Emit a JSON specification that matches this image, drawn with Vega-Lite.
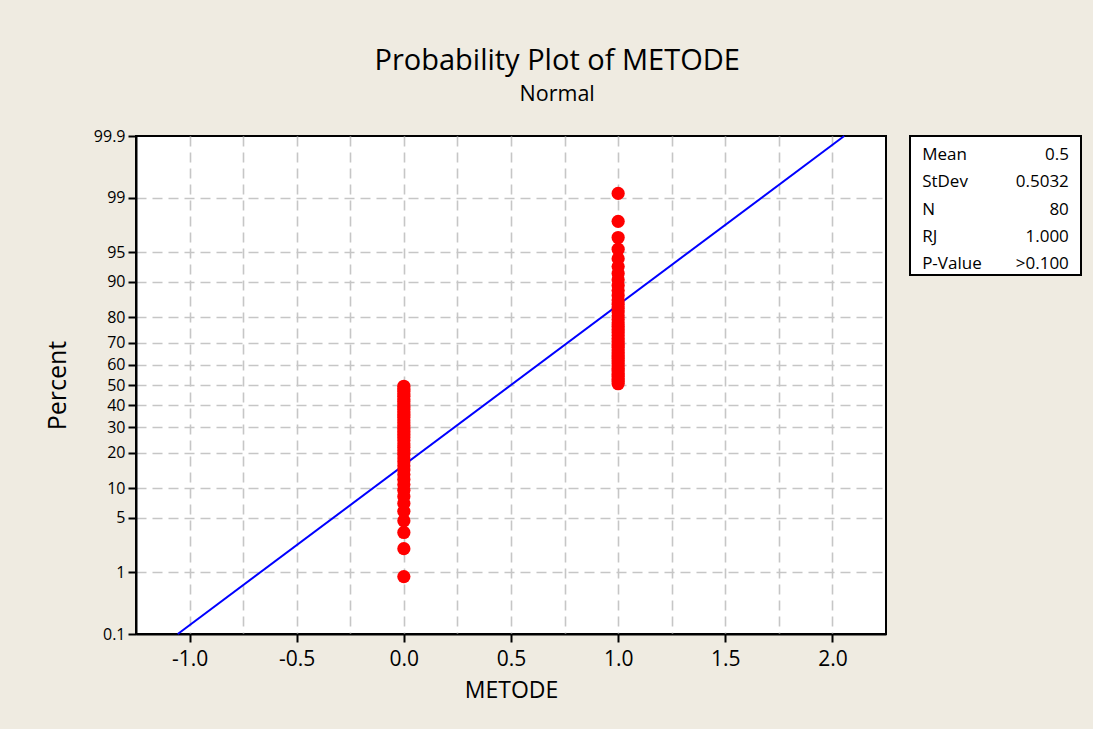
{
  "$schema": "https://vega.github.io/schema/vega-lite/v6.json",
  "background": "#efebe1",
  "padding": {"left": 44, "top": 46, "right": 12, "bottom": 30},
  "title": {
    "text": "Probability Plot of METODE",
    "subtitle": "Normal",
    "font": "Open Sans",
    "subtitleFont": "Open Sans",
    "fontSize": 29,
    "subtitleFontSize": 21.5,
    "fontWeight": "normal",
    "color": "black",
    "subtitleColor": "black",
    "anchor": "middle",
    "dx": -6,
    "offset": 22,
    "subtitlePadding": 8
  },
  "spacing": 22,
  "config": {
    "font": "Open Sans",
    "view": {"fill": "white", "stroke": "black", "strokeWidth": 2}
  },
  "datasets": {
    "points": [
      {"METODE": 0, "percent": 0.87}, {"METODE": 0, "percent": 2.11}, {"METODE": 0, "percent": 3.36}, {"METODE": 0, "percent": 4.60},
      {"METODE": 0, "percent": 5.85}, {"METODE": 0, "percent": 7.09}, {"METODE": 0, "percent": 8.33}, {"METODE": 0, "percent": 9.58},
      {"METODE": 0, "percent": 10.82}, {"METODE": 0, "percent": 12.06}, {"METODE": 0, "percent": 13.31}, {"METODE": 0, "percent": 14.55},
      {"METODE": 0, "percent": 15.80}, {"METODE": 0, "percent": 17.04}, {"METODE": 0, "percent": 18.28}, {"METODE": 0, "percent": 19.53},
      {"METODE": 0, "percent": 20.77}, {"METODE": 0, "percent": 22.01}, {"METODE": 0, "percent": 23.26}, {"METODE": 0, "percent": 24.50},
      {"METODE": 0, "percent": 25.75}, {"METODE": 0, "percent": 26.99}, {"METODE": 0, "percent": 28.23}, {"METODE": 0, "percent": 29.48},
      {"METODE": 0, "percent": 30.72}, {"METODE": 0, "percent": 31.97}, {"METODE": 0, "percent": 33.21}, {"METODE": 0, "percent": 34.45},
      {"METODE": 0, "percent": 35.70}, {"METODE": 0, "percent": 36.94}, {"METODE": 0, "percent": 38.18}, {"METODE": 0, "percent": 39.43},
      {"METODE": 0, "percent": 40.67}, {"METODE": 0, "percent": 41.92}, {"METODE": 0, "percent": 43.16}, {"METODE": 0, "percent": 44.40},
      {"METODE": 0, "percent": 45.65}, {"METODE": 0, "percent": 46.89}, {"METODE": 0, "percent": 48.13}, {"METODE": 0, "percent": 49.38},
      {"METODE": 1, "percent": 50.62}, {"METODE": 1, "percent": 51.87}, {"METODE": 1, "percent": 53.11}, {"METODE": 1, "percent": 54.35},
      {"METODE": 1, "percent": 55.60}, {"METODE": 1, "percent": 56.84}, {"METODE": 1, "percent": 58.08}, {"METODE": 1, "percent": 59.33},
      {"METODE": 1, "percent": 60.57}, {"METODE": 1, "percent": 61.82}, {"METODE": 1, "percent": 63.06}, {"METODE": 1, "percent": 64.30},
      {"METODE": 1, "percent": 65.55}, {"METODE": 1, "percent": 66.79}, {"METODE": 1, "percent": 68.03}, {"METODE": 1, "percent": 69.28},
      {"METODE": 1, "percent": 70.52}, {"METODE": 1, "percent": 71.77}, {"METODE": 1, "percent": 73.01}, {"METODE": 1, "percent": 74.25},
      {"METODE": 1, "percent": 75.50}, {"METODE": 1, "percent": 76.74}, {"METODE": 1, "percent": 77.99}, {"METODE": 1, "percent": 79.23},
      {"METODE": 1, "percent": 80.47}, {"METODE": 1, "percent": 81.72}, {"METODE": 1, "percent": 82.96}, {"METODE": 1, "percent": 84.20},
      {"METODE": 1, "percent": 85.45}, {"METODE": 1, "percent": 86.69}, {"METODE": 1, "percent": 87.94}, {"METODE": 1, "percent": 89.18},
      {"METODE": 1, "percent": 90.42}, {"METODE": 1, "percent": 91.67}, {"METODE": 1, "percent": 92.91}, {"METODE": 1, "percent": 94.15},
      {"METODE": 1, "percent": 95.40}, {"METODE": 1, "percent": 96.64}, {"METODE": 1, "percent": 97.89}, {"METODE": 1, "percent": 99.13}
    ],
    "fit": [
      {"METODE": -1.055, "percent": 0.1},
      {"METODE": 2.055, "percent": 99.9}
    ],
    "stats": [
      {"stat": "Mean", "value": "0.5"},
      {"stat": "StDev", "value": "0.5032"},
      {"stat": "N", "value": "80"},
      {"stat": "RJ", "value": "1.000"},
      {"stat": "P-Value", "value": ">0.100"}
    ]
  },
  "hconcat": [
    {
      "width": 750,
      "height": 498,
      "encoding": {
        "x": {
          "field": "METODE",
          "type": "quantitative",
          "scale": {"domain": [-1.25, 2.25], "nice": false, "zero": false},
          "axis": {
            "values": [-1, -0.75, -0.5, -0.25, 0, 0.25, 0.5, 0.75, 1, 1.25, 1.5, 1.75, 2],
            "tickCount": 30,
            "labelExpr": "abs(datum.value * 2 - round(datum.value * 2)) < 0.001 ? (datum.value < 0 ? '-' : '') + format(abs(datum.value), '.1f') : ''",
            "labelOverlap": false,
            "labelFontSize": 21,
            "labelColor": "black",
            "labelPadding": 6,
            "tickSize": 8,
            "tickWidth": 2,
            "tickColor": "black",
            "tickOpacity": {"condition": {"test": "abs(datum.value * 2 - round(datum.value * 2)) < 0.001", "value": 1}, "value": 0},
            "grid": true,
            "gridColor": "#c6c6c6",
            "gridDash": [10, 6],
            "gridWidth": 1.6,
            "domainColor": "black",
            "domainWidth": 2,
            "title": "METODE",
            "titleFontSize": 23,
            "titleFontWeight": "normal",
            "titleColor": "black",
            "titlePadding": 10
          }
        },
        "y": {
          "field": "z",
          "type": "quantitative",
          "scale": {"domain": [-3.090232, 3.090232], "nice": false, "zero": false},
          "axis": {
            "values": [-3.090232, -2.326348, -1.644854, -1.281552, -0.841621, -0.524401, -0.253347, 0, 0.253347, 0.524401, 0.841621, 1.281552, 1.644854, 2.326348, 3.090232],
            "tickCount": 30,
            "labelExpr": "'' + round(cumulativeNormal(datum.value) * 1000) / 10",
            "labelOverlap": false,
            "labelFontSize": 16,
            "labelColor": "black",
            "labelPadding": 3,
            "tickSize": 8,
            "tickWidth": 2,
            "tickColor": "black",
            "grid": true,
            "gridColor": "#c6c6c6",
            "gridDash": [10, 6],
            "gridWidth": 1.6,
            "gridOpacity": {"condition": {"test": "abs(datum.value) > 3", "value": 0}, "value": 1},
            "domainColor": "black",
            "domainWidth": 2,
            "title": "Percent",
            "titleFontSize": 25,
            "titleFontWeight": "normal",
            "titleColor": "black",
            "titlePadding": 23
          }
        }
      },
      "layer": [
        {
          "data": {"name": "fit"},
          "transform": [{"calculate": "quantileNormal(datum.percent / 100)", "as": "z"}],
          "mark": {"type": "line", "color": "#0000ff", "strokeWidth": 2}
        },
        {
          "data": {"name": "points"},
          "transform": [{"calculate": "quantileNormal(datum.percent / 100)", "as": "z"}],
          "mark": {"type": "circle", "size": 175, "color": "#ff0000", "opacity": 1}
        }
      ]
    },
    {
      "width": 171,
      "height": 139,
      "data": {"name": "stats"},
      "encoding": {
        "y": {"field": "stat", "type": "nominal", "sort": null, "scale": {"type": "point", "range": [19, 128], "padding": 0}, "axis": null}
      },
      "layer": [
        {
          "mark": {"type": "text", "align": "left", "baseline": "middle", "fontSize": 17, "color": "black"},
          "encoding": {
            "x": {"datum": "label", "type": "nominal", "scale": {"type": "point", "domain": ["label", "value"], "padding": 0.0828}, "axis": null},
            "text": {"field": "stat"}
          }
        },
        {
          "mark": {"type": "text", "align": "right", "baseline": "middle", "fontSize": 17, "color": "black"},
          "encoding": {
            "x": {"datum": "value", "type": "nominal"},
            "text": {"field": "value"}
          }
        }
      ]
    }
  ]
}
